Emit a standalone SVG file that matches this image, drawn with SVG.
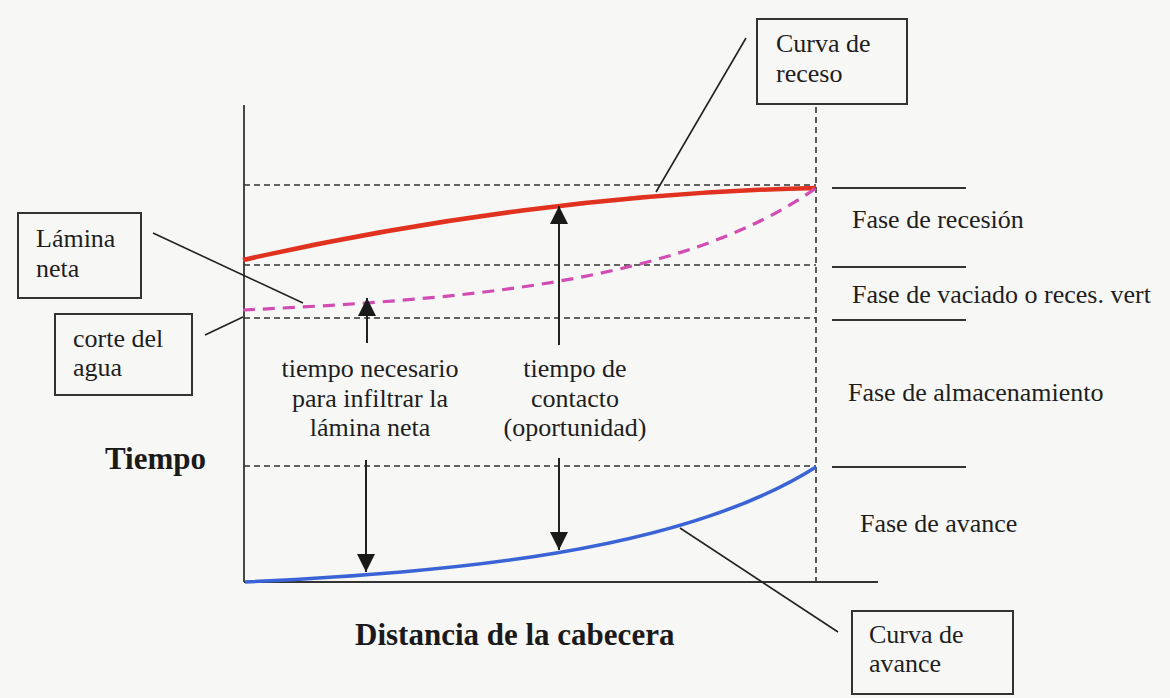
<svg xmlns="http://www.w3.org/2000/svg" width="1170" height="698" viewBox="0 0 1170 698">
<defs>
<style>
.t{font-family:"Liberation Serif","Times New Roman",serif;font-size:26px;fill:#1e1e1e}
.b{font-family:"Liberation Serif","Times New Roman",serif;font-size:31px;font-weight:bold;fill:#1a1a1a}
.box{fill:none;stroke:#333;stroke-width:2}
.dash{stroke:#333;stroke-width:1.6;stroke-dasharray:6 4;fill:none}
.solid{stroke:#333;stroke-width:1.8;fill:none}
.lead{stroke:#222;stroke-width:1.6;fill:none}
.arr{stroke:#222;stroke-width:2;fill:none;marker-end:url(#ah)}
</style>
<marker id="ah" viewBox="0 0 10 10" refX="10" refY="5" markerWidth="9" markerHeight="9" markerUnits="strokeWidth" orient="auto">
<path d="M0,0 L10,5 L0,10 Z" fill="#1a1a1a"/>
</marker>
</defs>
<rect width="1170" height="698" fill="#f7f7f6"/>

<g id="axes">
<line class="solid" x1="244" y1="105" x2="244" y2="582"/>
<line class="solid" x1="244" y1="582" x2="878" y2="582"/>
</g>

<g id="grid">
<line class="dash" x1="244" y1="185" x2="816" y2="185"/>
<line class="dash" x1="244" y1="265" x2="816" y2="265"/>
<line class="dash" x1="244" y1="318" x2="816" y2="318"/>
<line class="dash" x1="244" y1="466" x2="816" y2="466"/>
<line class="dash" x1="816" y1="107" x2="816" y2="582"/>
<line class="solid" x1="832" y1="188" x2="966" y2="188"/>
<line class="solid" x1="832" y1="267" x2="966" y2="267"/>
<line class="solid" x1="832" y1="320" x2="966" y2="320"/>
<line class="solid" x1="832" y1="467" x2="966" y2="467"/>
</g>

<g id="curves">
<path id="curva-receso" d="M243,260 C420,220 620,192 816,188" fill="none" stroke="#e0321e" stroke-width="4.5"/>
<path id="lamina-neta" d="M243,310 C450,300 680,285 816,188" fill="none" stroke="#d24cb4" stroke-width="3.2" stroke-dasharray="12 8"/>
<path id="curva-avance" d="M245,582 C450,572 680,553 816,467" fill="none" stroke="#3a64d6" stroke-width="3.5"/>
</g>

<g id="connectors">
<line class="arr" x1="367" y1="343" x2="367" y2="298"/>
<line class="arr" x1="559" y1="345" x2="559" y2="206"/>
<line class="arr" x1="366" y1="460" x2="366" y2="572"/>
<line class="arr" x1="559" y1="458" x2="559" y2="550"/>
<line class="lead" x1="153" y1="233" x2="303" y2="303"/>
<line class="lead" x1="205" y1="335" x2="243" y2="317"/>
<line class="lead" x1="746" y1="38" x2="656" y2="192"/>
<line class="lead" x1="680" y1="528" x2="838" y2="632"/>
</g>

<g id="node-receso">
<rect class="box" x="757" y="19" width="150" height="85"/>
<text class="t" x="776" y="52">Curva de</text>
<text class="t" x="776" y="82">receso</text>
</g>

<g id="node-lamina">
<rect class="box" x="18" y="213" width="123" height="85"/>
<text class="t" x="36" y="247">Lámina</text>
<text class="t" x="36" y="277">neta</text>
</g>

<g id="node-corte">
<rect class="box" x="55" y="314" width="137" height="81"/>
<text class="t" x="73" y="347">corte del</text>
<text class="t" x="73" y="376">agua</text>
</g>

<g id="node-avance">
<rect class="box" x="852" y="611" width="161" height="83"/>
<text class="t" x="869" y="643">Curva de</text>
<text class="t" x="869" y="672">avance</text>
</g>

<g id="label-infiltrar" text-anchor="middle">
<text class="t" x="370" y="377">tiempo necesario</text>
<text class="t" x="370" y="407">para infiltrar la</text>
<text class="t" x="370" y="436">lámina neta</text>
</g>

<g id="label-contacto" text-anchor="middle">
<text class="t" x="575" y="377">tiempo de</text>
<text class="t" x="575" y="407">contacto</text>
<text class="t" x="575" y="436">(oportunidad)</text>
</g>

<g id="phases">
<text class="t" x="852" y="228">Fase de recesión</text>
<text class="t" x="852" y="303">Fase de vaciado o reces. vert</text>
<text class="t" x="848" y="401">Fase de almacenamiento</text>
<text class="t" x="860" y="532">Fase de avance</text>
</g>

<g id="axis-labels">
<text class="b" x="105" y="469">Tiempo</text>
<text class="b" x="355" y="645">Distancia de la cabecera</text>
</g>
</svg>
